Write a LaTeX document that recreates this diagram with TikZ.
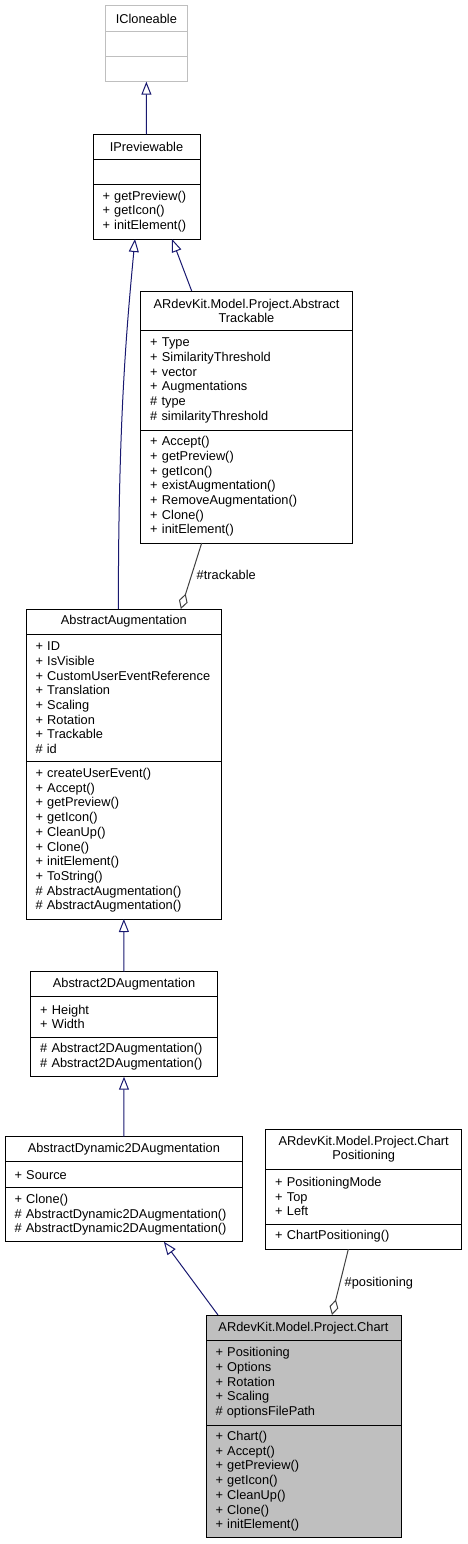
\documentclass[tikz,border=0pt]{standalone}
\usepackage{fontspec}
\setmainfont{Liberation Sans}
\usetikzlibrary{arrows.meta,calc}
\definecolor{navy}{HTML}{191970}
\definecolor{aggc}{HTML}{404040}
\definecolor{chartfill}{HTML}{BFBFBF}
\definecolor{ghost}{HTML}{BFBFBF}
\newcommand\umlfont{\fontsize{12.8}{14.7}\selectfont\hyphenpenalty=10000\relax\exhyphenpenalty=10000\relax}
\tikzset{
  umlbox/.style={draw=black, line width=1pt, inner xsep=0pt, inner ysep=0pt, outer sep=0pt, anchor=north, font=\umlfont},
  umltitle/.style={umlbox, align=center},
  umllist/.style={umlbox, align=left},
  inh/.style={draw=navy, line width=1pt, -{Triangle[open, length=13pt, width=10pt]}},
  agg/.style={draw=aggc, line width=1pt, {Diamond[open, length=16pt, width=9pt]}-},
  lbl/.style={font=\umlfont, inner sep=0pt, anchor=west}
}
\begin{document}
\begin{tikzpicture}[x=1pt,y=-1pt]
\useasboundingbox (0,0) rectangle (467,1544);
% ICloneable
\node[umltitle, draw=ghost, text width=62.7pt, minimum width=82.7pt, minimum height=26pt] (cloneT) at (146.35,5.7) {ICloneable};
\node[umllist, draw=ghost, text width=62.7pt, minimum width=82.7pt, minimum height=25pt] (cloneA) at (cloneT.south) {};
\node[umllist, draw=ghost, text width=62.7pt, minimum width=82.7pt, minimum height=25pt] (cloneM) at (cloneA.south) {};
% IPreviewable
\node[umltitle, text width=88pt, minimum width=107pt, minimum height=25pt] (prevT) at (146.5,134.3) {IPreviewable};
\node[umllist, text width=88pt, minimum width=107pt, minimum height=25pt] (prevA) at (prevT.south) {};
\node[umllist, text width=88pt, minimum width=107pt, minimum height=54.7pt] (prevM) at (prevA.south) {+ getPreview()\\+ getIcon()\\+ initElement()};
% AbstractTrackable
\node[umltitle, text width=192.6pt, minimum width=211.6pt, minimum height=39.7pt] (trackT) at (246.5,291) {ARdevKit.Model.Project.Abstract\\Trackable};
\node[umllist, text width=192.6pt, minimum width=211.6pt, minimum height=99.3pt] (trackA) at (trackT.south) {+ Type\\+ SimilarityThreshold\\+ vector\\+ Augmentations\\\# type\\\# similarityThreshold};
\node[umllist, text width=192.6pt, minimum width=211.6pt, minimum height=113pt] (trackM) at (trackA.south) {+ Accept()\\+ getPreview()\\+ getIcon()\\+ existAugmentation()\\+ RemoveAugmentation()\\+ Clone()\\+ initElement()};
% AbstractAugmentation
\node[umltitle, text width=176.7pt, minimum width=195.7pt, minimum height=25pt] (augT) at (123.85,609) {AbstractAugmentation};
\node[umllist, text width=176.7pt, minimum width=195.7pt, minimum height=127.7pt] (augA) at (augT.south) {+ ID\\+ IsVisible\\+ CustomUserEventReference\\+ Translation\\+ Scaling\\+ Rotation\\+ Trackable\\\# id};
\node[umllist, text width=176.7pt, minimum width=195.7pt, minimum height=157.3pt] (augM) at (augA.south) {+ createUserEvent()\\+ Accept()\\+ getPreview()\\+ getIcon()\\+ CleanUp()\\+ Clone()\\+ initElement()\\+ ToString()\\\# AbstractAugmentation()\\\# AbstractAugmentation()};
% Abstract2DAugmentation
\node[umltitle, text width=167.6pt, minimum width=186.6pt, minimum height=25pt] (twoT) at (124,971.7) {Abstract2DAugmentation};
\node[umllist, text width=167.6pt, minimum width=186.6pt, minimum height=40.6pt] (twoA) at (twoT.south) {+ Height\\+ Width};
\node[umllist, text width=167.6pt, minimum width=186.6pt, minimum height=39.4pt] (twoM) at (twoA.south) {\# Abstract2DAugmentation()\\\# Abstract2DAugmentation()};
% AbstractDynamic2DAugmentation
\node[umltitle, text width=218.7pt, minimum width=237.7pt, minimum height=25pt] (dynT) at (123.85,1136.7) {AbstractDynamic2DAugmentation};
\node[umllist, text width=218.7pt, minimum width=237.7pt, minimum height=26pt] (dynA) at (dynT.south) {+ Source};
\node[umllist, text width=218.7pt, minimum width=237.7pt, minimum height=54pt] (dynM) at (dynA.south) {+ Clone()\\\# AbstractDynamic2DAugmentation()\\\# AbstractDynamic2DAugmentation()};
% ChartPositioning
\node[umltitle, text width=177pt, minimum width=196pt, minimum height=40pt] (posT) at (363.7,1129.3) {ARdevKit.Model.Project.Chart\\Positioning};
\node[umllist, text width=177pt, minimum width=196pt, minimum height=54.7pt] (posA) at (posT.south) {+ PositioningMode\\+ Top\\+ Left};
\node[umllist, text width=177pt, minimum width=196pt, minimum height=25.3pt] (posM) at (posA.south) {+ ChartPositioning()};
% Chart
\node[umltitle, fill=chartfill, text width=176pt, minimum width=195pt, minimum height=25.7pt] (chartT) at (303.5,1315) {ARdevKit.Model.Project.Chart};
\node[umllist, fill=chartfill, text width=176pt, minimum width=195pt, minimum height=84.3pt] (chartA) at (chartT.south) {+ Positioning\\+ Options\\+ Rotation\\+ Scaling\\\# optionsFilePath};
\node[umllist, fill=chartfill, text width=176pt, minimum width=195pt, minimum height=112.7pt] (chartM) at (chartA.south) {+ Chart()\\+ Accept()\\+ getPreview()\\+ getIcon()\\+ CleanUp()\\+ Clone()\\+ initElement()};
% connectors
\draw[inh] (prevT.north) -- (cloneM.south);
\draw[inh] ([xshift=-54.8pt]trackT.north) -- ([xshift=25.5pt]prevM.south);
\draw[inh] ([xshift=-5.5pt]augT.north) .. controls ($(augT.north)+(-5.5,-190)$) and ($(prevM.south)+(-20,90)$) .. ([xshift=-11.5pt]prevM.south);
\draw[agg] ([xshift=57pt]augT.north) -- ([xshift=-44.8pt]trackM.south);
\draw[inh] (twoT.north) -- (augM.south);
\draw[inh] (dynT.north) -- (twoM.south);
\draw[inh] ([xshift=-85.5pt]chartT.north) -- ([xshift=40pt]dynM.south);
\draw[agg] ([xshift=28.5pt]chartT.north) -- ([xshift=-15.4pt]posM.south);
\node[lbl] (lblTrack) at (196.5,575) {\#trackable};
\node[lbl] (lblPos) at (344.5,1282.7) {\#positioning};
\end{tikzpicture}
\end{document}
